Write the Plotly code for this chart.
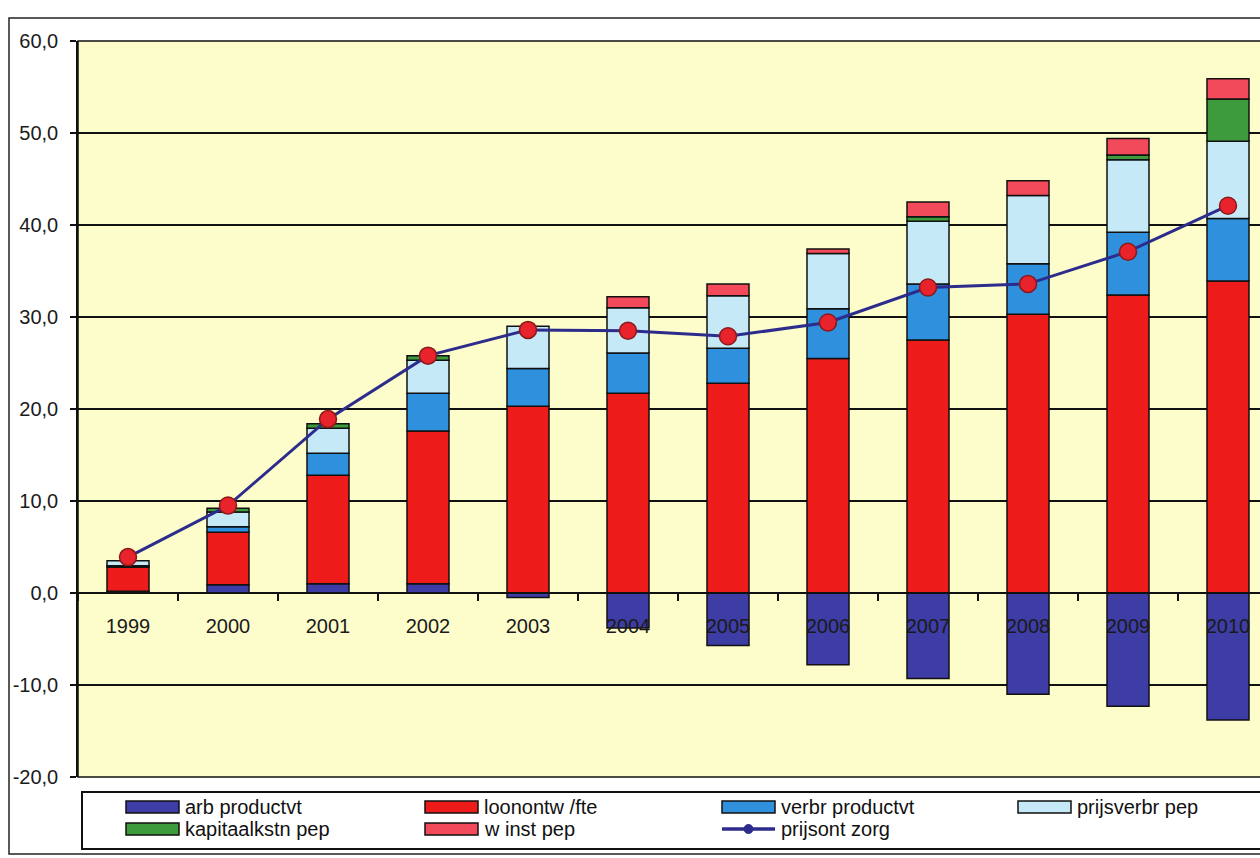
import plotly.graph_objects as go

# ---------------- data ----------------
years = ["1999", "2000", "2001", "2002", "2003", "2004",
         "2005", "2006", "2007", "2008", "2009", "2010"]

arb_productvt = [0.2, 0.9, 1.0, 1.0, -0.5, -3.8, -5.7, -7.8, -9.3, -11.0, -12.3, -13.8]
loonontw_fte = [2.6, 5.7, 11.8, 16.6, 20.3, 21.7, 22.8, 25.5, 27.5, 30.3, 32.4, 33.9]
verbr_productvt = [0.15, 0.6, 2.4, 4.1, 4.1, 4.4, 3.8, 5.4, 6.1, 5.5, 6.8, 6.8]
prijsverbr_pep = [0.55, 1.6, 2.7, 3.6, 4.6, 4.9, 5.7, 6.0, 6.8, 7.4, 7.9, 8.4]
kapitaalkstn_pep = [None, 0.4, 0.5, 0.5, None, None, None, None, 0.5, None, 0.5, 4.6]
winst_pep = [None, None, None, None, None, 1.2, 1.3, 0.5, 1.6, 1.6, 1.8, 2.2]
prijsont_zorg = [3.9, 9.5, 18.9, 25.8, 28.6, 28.5, 27.9, 29.4, 33.2, 33.6, 37.1, 42.1]

series_names = ["arb productvt", "loonontw /fte", "verbr productvt", "prijsverbr pep",
                "kapitaalkstn pep", "w inst pep", "prijsont zorg"]

ytick_vals = [-20, -10, 0, 10, 20, 30, 40, 50, 60]
ytick_labels = ["-20,0", "-10,0", "0,0", "10,0", "20,0", "30,0", "40,0", "50,0", "60,0"]

# ---------------- style ----------------
bar_colors = ["#3d3da5", "#ee1b1b", "#2f90de", "#c6e9f8", "#3d9a3d", "#f24a5a"]
line_color = "#2c2c8c"
marker_color = "#e8232b"
FONT = "Arial, Liberation Sans, sans-serif"

fig = go.Figure()
bar_series = [arb_productvt, loonontw_fte, verbr_productvt, prijsverbr_pep,
              kapitaalkstn_pep, winst_pep]
for name, vals, col in zip(series_names[:6], bar_series, bar_colors):
    fig.add_trace(go.Bar(
        x=years, y=vals, name=name, width=0.42,
        marker=dict(color=col, line=dict(color="#111111", width=1.5)),
        showlegend=False,
    ))

fig.add_trace(go.Scatter(
    x=years, y=prijsont_zorg, name=series_names[6], mode="lines+markers",
    line=dict(color=line_color, width=3),
    marker=dict(size=17, color=marker_color, line=dict(color="#8a1a1a", width=1.5)),
    showlegend=False,
))

# pixel -> paper helpers (layout only)
PL, PT, PB, PW = 78, 41, 777, 1182
PH = PB - PT
def px_x(x):
    return (x - PL) / PW
def px_y(y):
    return (PB - y) / PH

shapes = []
annotations = []
# outer frame
shapes.append(dict(type="rect", xref="paper", yref="paper",
                   x0=px_x(9), x1=px_x(1275), y0=px_y(854), y1=px_y(18),
                   line=dict(color="#222222", width=1.5), layer="above"))
# plot border
shapes.append(dict(type="rect", xref="paper", yref="paper",
                   x0=0, x1=px_x(1275), y0=0, y1=1,
                   line=dict(color="#111111", width=1.5), layer="above"))
# legend box
shapes.append(dict(type="rect", xref="paper", yref="paper",
                   x0=px_x(82), x1=px_x(1275), y0=px_y(849), y1=px_y(792),
                   line=dict(color="#111111", width=2), fillcolor="white", layer="above"))

col_x = [126, 425, 722, 1018]
row_y = [807, 829]
legend_items = [
    (series_names[0], bar_colors[0], 0, 0),
    (series_names[1], bar_colors[1], 1, 0),
    (series_names[2], bar_colors[2], 2, 0),
    (series_names[3], bar_colors[3], 3, 0),
    (series_names[4], bar_colors[4], 0, 1),
    (series_names[5], bar_colors[5], 1, 1),
    (series_names[6], None, 2, 1),
]
for name, col, c, r in legend_items:
    x0 = col_x[c]
    yc = row_y[r]
    if col is not None:
        shapes.append(dict(type="rect", xref="paper", yref="paper",
                           x0=px_x(x0), x1=px_x(x0 + 53), y0=px_y(yc + 6), y1=px_y(yc - 6),
                           fillcolor=col, line=dict(color="#111111", width=1.5), layer="above"))
    else:
        shapes.append(dict(type="line", xref="paper", yref="paper",
                           x0=px_x(x0), x1=px_x(x0 + 53), y0=px_y(yc), y1=px_y(yc),
                           line=dict(color=line_color, width=3.5), layer="above"))
        shapes.append(dict(type="circle", xref="paper", yref="paper",
                           x0=px_x(x0 + 22), x1=px_x(x0 + 31), y0=px_y(yc + 4.5), y1=px_y(yc - 4.5),
                           fillcolor=line_color, line=dict(color=line_color, width=1), layer="above"))
    annotations.append(dict(xref="paper", yref="paper", x=px_x(x0 + 57), y=px_y(yc),
                            xanchor="left", yanchor="middle", showarrow=False, text=name,
                            font=dict(family=FONT, size=20, color="#111111")))

fig.update_layout(
    width=1260, height=858, autosize=False,
    margin=dict(l=PL, r=0, t=PT, b=858 - PB, pad=0),
    paper_bgcolor="white", plot_bgcolor="#fdfccb",
    barmode="relative", bargap=0.58,
    showlegend=False,
    font=dict(family=FONT, size=20, color="#1a1a1a"),
    shapes=shapes, annotations=annotations,
    xaxis=dict(
        type="category", categoryorder="array", categoryarray=years,
        range=[-0.5, 11.32], anchor="free", position=0.25,
        showline=True, linecolor="#111111", linewidth=2,
        ticks="outside", tickson="boundaries", ticklen=7, tickwidth=1.5, tickcolor="#111111",
        showgrid=False, zeroline=False,
        tickfont=dict(family=FONT, size=20, color="#1a1a1a"),
        ticklabelstandoff=15,
    ),
    yaxis=dict(
        range=[-20, 60], domain=[0, 1],
        tickvals=ytick_vals, ticktext=ytick_labels,
        showline=True, linecolor="#111111", linewidth=1.5,
        ticks="outside", ticklen=6, tickwidth=1.5, tickcolor="#111111",
        showgrid=True, gridcolor="#111111", gridwidth=1.5,
        zeroline=False,
        tickfont=dict(family=FONT, size=20, color="#1a1a1a"),
        ticklabelstandoff=8,
    ),
)

fig.write_html("out.html")
